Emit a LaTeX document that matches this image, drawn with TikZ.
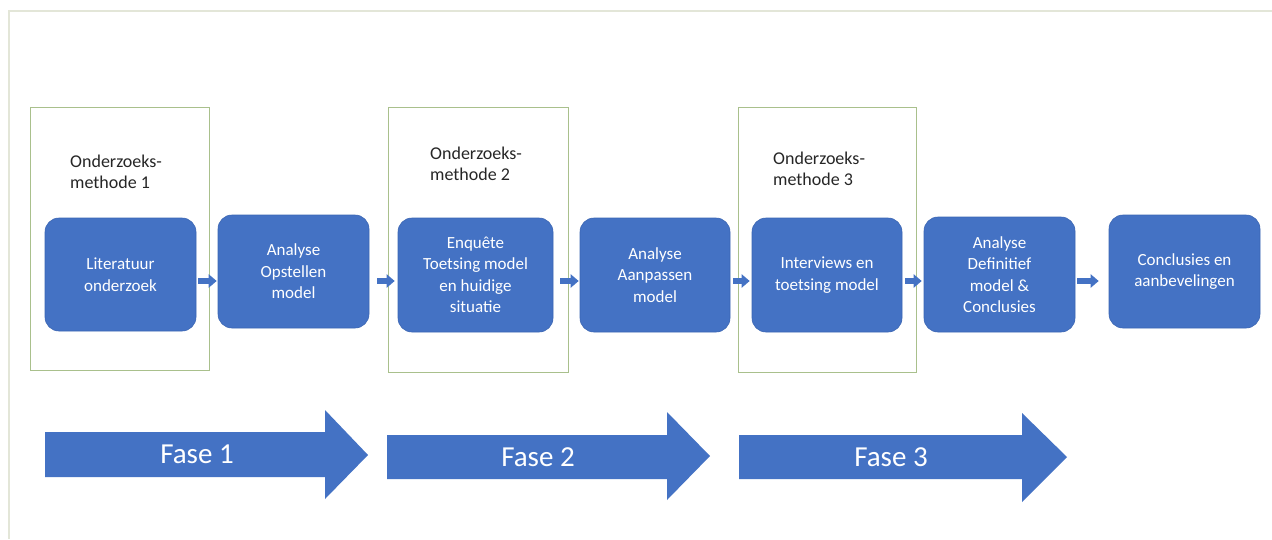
\documentclass[tikz,border=0pt]{standalone}
\usepackage{fontspec}
\setmainfont{Carlito}
\usetikzlibrary{arrows.meta}
\definecolor{officeblue}{HTML}{4472C4}
\definecolor{blueedge}{HTML}{3B66B3}
\definecolor{methodgreen}{HTML}{A9C08C}
\definecolor{framegray}{HTML}{E3E6D8}
\begin{document}
\begin{tikzpicture}[x=1pt,y=-1pt,
  stepbox/.style={fill=officeblue, draw=blueedge, line width=0.6pt, rounded corners=14pt,
    text=white, align=center, inner sep=0pt, font=\fontsize{17}{21.5}\selectfont},
  methodbox/.style={draw=methodgreen, line width=0.9pt, inner sep=0pt},
  methodlabel/.style={anchor=west, align=left, inner sep=0pt,
    font=\fontsize{18}{21.5}\selectfont, text=black!85},
  flowarrow/.style={draw=officeblue, line width=6pt, -{Triangle[length=8pt,width=13pt]}},
  phasearrow/.style={fill=officeblue},
  phaselabel/.style={text=white, font=\fontsize{29}{32}\selectfont, inner sep=0pt}]
\useasboundingbox (0,0) rectangle (1272,539);
\fill[white] (0,0) rectangle (1272,539);
\draw[framegray, line width=1.5pt] (1272,11) -- (9,11) -- (9,539);

% method frames
\node[methodbox, minimum width=179pt, minimum height=263pt] (g1) at (119.5,238.5) {};
\node[methodbox, minimum width=180pt, minimum height=265pt] (g2) at (478,239.5) {};
\node[methodbox, minimum width=178pt, minimum height=265pt] (g3) at (827,239.5) {};
\node[methodlabel] (m1) at (70,172) {Onderzoeks-\\methode 1};
\node[methodlabel] (m2) at (430,164) {Onderzoeks-\\methode 2};
\node[methodlabel] (m3) at (773,169) {Onderzoeks-\\methode 3};

% step boxes
\node[stepbox, minimum width=151pt, minimum height=113pt] (b1) at (120.5,274.5) {Literatuur\\onderzoek};
\node[stepbox, minimum width=151pt, minimum height=113pt] (b2) at (293.5,271.5) {Analyse\\Opstellen\\model};
\node[stepbox, minimum width=155pt, minimum height=114pt] (b3) at (475.5,275) {Enquête\\Toetsing model\\en huidige\\situatie};
\node[stepbox, minimum width=150pt, minimum height=114pt] (b4) at (655,275) {Analyse\\Aanpassen\\model};
\node[stepbox, minimum width=150pt, minimum height=114pt] (b5) at (827,275) {Interviews en\\toetsing model};
\node[stepbox, minimum width=151pt, minimum height=115pt] (b6) at (999.5,274.5) {Analyse\\Definitief\\model \&\\Conclusies};
\node[stepbox, minimum width=151pt, minimum height=113pt] (b7) at (1184.5,271.5) {Conclusies en\\aanbevelingen};

% small flow arrows
\coordinate (r) at (0,281);
\draw[flowarrow, shorten <=2pt, shorten >=1pt] (b1.east |- r) -- (b2.west |- r);
\draw[flowarrow, shorten <=8pt, shorten >=3pt] (b2.east |- r) -- (b3.west |- r);
\draw[flowarrow, shorten <=7pt, shorten >=1pt] (b3.east |- r) -- (b4.west |- r);
\draw[flowarrow, shorten <=3pt, shorten >=2pt] (b4.east |- r) -- (b5.west |- r);
\draw[flowarrow, shorten <=3pt, shorten >=2pt] (b5.east |- r) -- (b6.west |- r);
\draw[flowarrow, shorten <=2pt, shorten >=10pt] (b6.east |- r) -- (b7.west |- r);

% phase arrows
\fill[phasearrow] (45,432) -- (325,432) -- (325,410) -- (368,455) -- (325,499) -- (325,477) -- (45,477) -- cycle;
\fill[phasearrow] (387,435) -- (667,435) -- (667,412) -- (710,456) -- (667,500) -- (667,479) -- (387,479) -- cycle;
\fill[phasearrow] (739,435) -- (1022,435) -- (1022,413) -- (1067,457) -- (1022,502) -- (1022,479) -- (739,479) -- cycle;
\node[phaselabel] (f1) at (197,454) {Fase 1};
\node[phaselabel] (f2) at (538,457) {Fase 2};
\node[phaselabel] (f3) at (891,457) {Fase 3};
\end{tikzpicture}
\end{document}
